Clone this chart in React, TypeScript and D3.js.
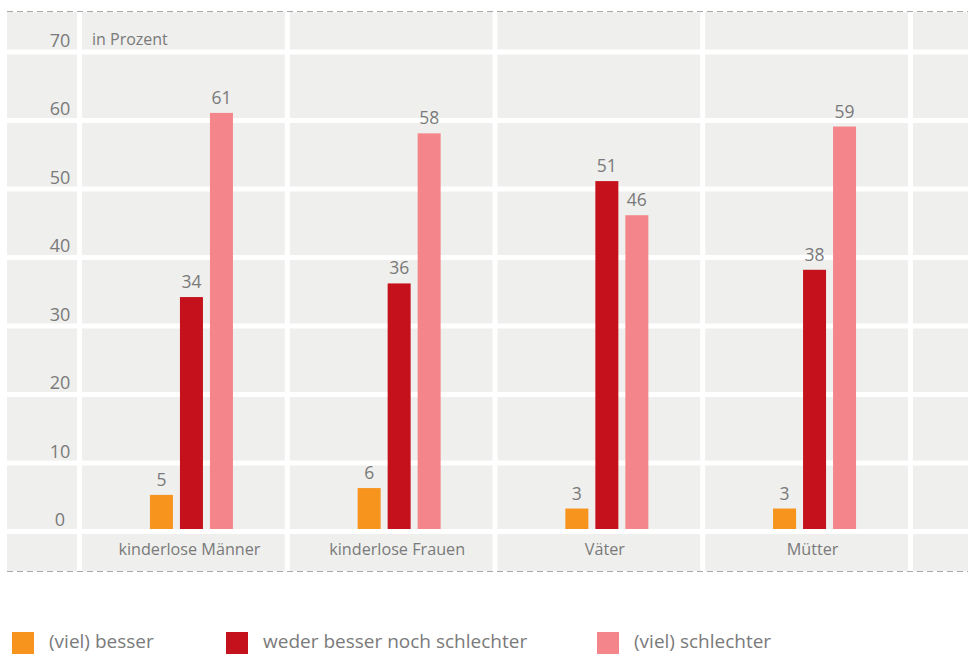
import React from "react";
import * as d3 from "d3";

const categories = ["kinderlose Männer", "kinderlose Frauen", "Väter", "Mütter"];
const seriesNames = ["(viel) besser", "weder besser noch schlechter", "(viel) schlechter"];
const besser = [5, 6, 3, 3];
const weder = [34, 36, 51, 38];
const schlechter = [61, 58, 46, 59];
const yTicks = [0, 10, 20, 30, 40, 50, 60, 70];
const colors = ["#f7941d", "#c4111b", "#f4868b"];

const W = 968;
const H = 654;
const FONT = "'Open Sans', 'Noto Sans', sans-serif";
const TXT = "#7a7a7a";

export default function App() {
  const series = [besser, weder, schlechter];
  const x = d3.scaleBand<string>().domain(categories).range([87.6, 918.4]).padding(0);
  const inner = d3.scaleBand<number>().domain([0, 1, 2]).range([-41.5, 41.5]).paddingInner(0.2333).paddingOuter(0);
  const y = d3.scaleLinear().domain([0, 70]).range([529, 51.5]);
  const bgLeft = 7;
  const top = 12;
  const bottom = 571;
  const vLines = categories.map((c) => (x(c) as number) - 8).concat([(x(categories[3]) as number) + x.bandwidth() - 8]);
  const legendX = [12, 226, 597];

  return (
    <svg width={W} height={H} style={{ position: "absolute", left: 0, top: 0 }}>
      <rect x={bgLeft} y={top} width={W - bgLeft} height={bottom - top} fill="#efefed" />
      {yTicks.map((t) => (
        <rect key={"g" + t} x={bgLeft} y={y(t) - (t / 70) * 2} width={W - bgLeft} height={5} fill="#fff" />
      ))}
      {vLines.map((vx, i) => (
        <rect key={"v" + i} x={vx - 2.5} y={top} width={5} height={bottom - top} fill="#fff" />
      ))}
      <line x1={bgLeft} x2={W} y1={11.5} y2={11.5} stroke="#a8a8a8" strokeWidth={1} strokeDasharray="6,4" />
      <line x1={bgLeft} x2={W} y1={571.5} y2={571.5} stroke="#a8a8a8" strokeWidth={1} strokeDasharray="6,4" />
      {yTicks.map((t) => (
        <text key={"t" + t} x={60} y={y(t) - 3 - (t / 70) * 2} textAnchor="middle" fontFamily={FONT} fontSize={18} fill={TXT}>
          {t}
        </text>
      ))}
      <text x={92} y={45} fontFamily={FONT} fontSize={16} fill={TXT}>in Prozent</text>
      {categories.map((c, ci) => {
        const cx = (x(c) as number) + x.bandwidth() / 2;
        return (
          <g key={c}>
            {series.map((s, si) => {
              const bx = cx + (inner(si) as number);
              const bw = inner.bandwidth();
              return (
                <g key={si}>
                  <rect x={bx} y={y(s[ci])} width={bw} height={y(0) - y(s[ci])} fill={colors[si]} />
                  <text x={bx + bw / 2} y={y(s[ci]) - 9} textAnchor="middle" fontFamily={FONT} fontSize={17.5} fill={TXT}>
                    {s[ci]}
                  </text>
                </g>
              );
            })}
            <text x={cx - 2} y={555} textAnchor="middle" fontFamily={FONT} fontSize={16.2} fill={TXT}>
              {c}
            </text>
          </g>
        );
      })}
      {seriesNames.map((n, i) => (
        <g key={n}>
          <rect x={legendX[i]} y={632} width={22} height={22} fill={colors[i]} />
          <text x={legendX[i] + 37} y={648} fontFamily={FONT} fontSize={19} fill={TXT}>
            {n}
          </text>
        </g>
      ))}
    </svg>
  );
}
